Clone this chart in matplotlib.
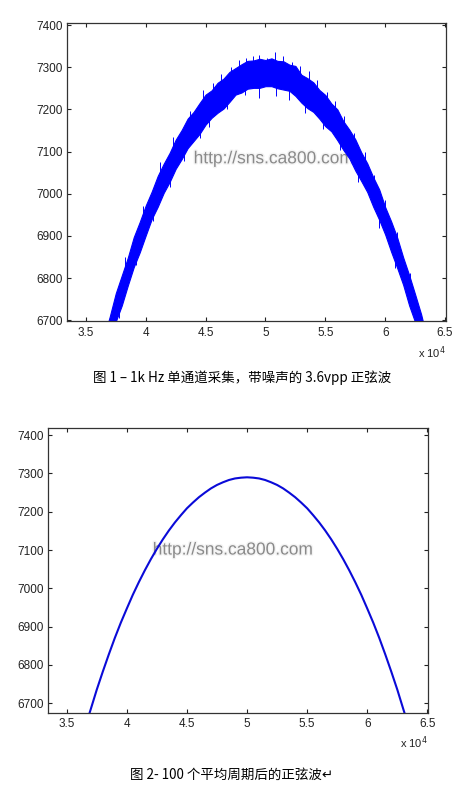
import matplotlib
matplotlib.use("Agg")
import matplotlib.pyplot as plt
import matplotlib.patheffects as pe
from matplotlib.ticker import FuncFormatter

# --- figure 1: noisy single-channel capture (envelope of the noisy trace) ---
noisy_x = [36000, 36500, 37000, 37500, 38000, 38500, 39000, 39500, 40000, 40500,
           41000, 41500, 42000, 42500, 43000, 43500, 44000, 44500, 45000, 45500,
           46000, 46500, 47000, 47500, 48000, 48500, 49000, 49500, 50000, 50500,
           51000, 51500, 52000, 52500, 53000, 53500, 54000, 54500, 55000, 55500,
           56000, 56500, 57000, 57500, 58000, 58500, 59000, 59500, 60000, 60500,
           61000, 61500, 62000, 62500, 63000, 63500, 64000]
noisy_upper = [6602, 6659, 6709, 6764, 6806, 6848, 6897, 6933, 6972, 7005,
               7042, 7071, 7097, 7128, 7151, 7178, 7194, 7215, 7235, 7245,
               7263, 7273, 7289, 7298, 7307, 7315, 7316, 7320, 7317, 7321,
               7315, 7314, 7306, 7303, 7282, 7274, 7264, 7246, 7234, 7214,
               7200, 7172, 7152, 7129, 7098, 7072, 7039, 7010, 6968, 6934,
               6896, 6849, 6807, 6761, 6714, 6656, 6603]
noisy_lower = [6537, 6590, 6641, 6697, 6735, 6782, 6826, 6861, 6901, 6940,
               6969, 7002, 7028, 7059, 7082, 7108, 7125, 7142, 7164, 7180,
               7192, 7202, 7218, 7235, 7240, 7249, 7251, 7251, 7255, 7255,
               7250, 7247, 7244, 7232, 7216, 7203, 7194, 7178, 7160, 7148,
               7127, 7104, 7084, 7055, 7030, 7004, 6969, 6938, 6903, 6862,
               6824, 6784, 6735, 6695, 6645, 6590, 6533]
# noise spikes sticking out of the band
spike_x = [38300, 39800, 41200, 42300, 43700, 44800, 45600, 46300, 47100, 47800,
           48400, 49000, 49450, 50100, 50780, 51500, 52200, 52900, 53600, 54300,
           55100, 55800, 56600, 57400, 58300, 59100, 60000, 61000, 62100,
           37800, 39200, 40600, 42000, 43200, 44500, 45300, 46800, 48300, 49500,
           50900, 52000, 53300, 54800, 56200, 57700, 59500, 60800, 62500]
spike_low = [6795, 6918, 7022, 7081, 7145, 7186, 7213, 7231, 7250, 7264,
             7273, 7278, 7280, 7281, 7279, 7273, 7262, 7250, 7235, 7218,
             7191, 7166, 7133, 7092, 7045, 6996, 6933, 6856, 6759,
             6705, 6830, 6935, 7015, 7077, 7133, 7158, 7200, 7235, 7228,
             7232, 7222, 7192, 7153, 7103, 7027, 6919, 6823, 6678]
spike_high = [6850, 6972, 7075, 7135, 7196, 7245, 7262, 7283, 7300, 7318,
              7322, 7326, 7328, 7322, 7337, 7327, 7312, 7304, 7290, 7270,
              7242, 7220, 7185, 7145, 7098, 7045, 6985, 6908, 6812,
              6755, 6880, 6985, 7064, 7125, 7179, 7205, 7249, 7274, 7285,
              7282, 7268, 7243, 7203, 7152, 7080, 6971, 6874, 6728]

# --- figure 2: average over 100 periods ---
avg_x = [36800, 37000, 37500, 38000, 38500, 39000, 39500, 40000, 40500, 41000,
         41500, 42000, 42500, 43000, 43500, 44000, 44500, 45000, 45500, 46000,
         46500, 47000, 47500, 48000, 48500, 49000, 49500, 50000, 50500, 51000,
         51500, 52000, 52500, 53000, 53500, 54000, 54500, 55000, 55500, 56000,
         56500, 57000, 57500, 58000, 58500, 59000, 59500, 60000, 60500, 61000,
         61500, 62000, 62500, 63000, 63200]
avg_y = [6664, 6684, 6735, 6782, 6827, 6870, 6910, 6947, 6983, 7016,
         7047, 7076, 7103, 7128, 7151, 7172, 7191, 7209, 7224, 7238,
         7250, 7261, 7270, 7277, 7283, 7287, 7289, 7290, 7289, 7287,
         7283, 7277, 7270, 7261, 7250, 7238, 7224, 7209, 7191, 7172,
         7151, 7128, 7103, 7076, 7047, 7016, 6983, 6947, 6910, 6870,
         6827, 6782, 6735, 6684, 6664]

y_ticks = [6700, 6800, 6900, 7000, 7100, 7200, 7300, 7400]
x_ticks = [35000, 40000, 45000, 50000, 55000, 60000, 65000]

caption1 = "图 1 – 1k Hz 单通道采集，带噪声的 3.6vpp 正弦波"
caption2 = "图 2- 100 个平均周期后的正弦波↵"
watermark = "http://sns.ca800.com"


def style_axes(ax):
    ax.set_xticks(x_ticks)
    ax.set_yticks(y_ticks)
    ax.xaxis.set_major_formatter(FuncFormatter(lambda v, p: "%g" % (v / 1e4)))
    ax.tick_params(direction="in", length=3, width=0.8, top=True, right=True,
                   labelsize=8.5, colors="#222222", pad=4)
    ax.tick_params(axis="y", pad=3)
    for s in ax.spines.values():
        s.set_color("#333333")
        s.set_linewidth(0.9)
    ax.text(1.0, -0.105, r"x 10$^{4}$", transform=ax.transAxes, ha="right",
            va="center", fontsize=8, color="#222222")


def add_watermark(ax, x, y):
    ax.text(x, y, watermark, transform=ax.transAxes, fontsize=12.5,
            color="#8a8a8a", family="Liberation Sans", va="center", zorder=1,
            path_effects=[pe.withStroke(linewidth=2, foreground="#f4f4f4")])


plt.rcParams["font.family"] = ["Liberation Sans", "DejaVu Sans"]
fig = plt.figure(figsize=(4.68, 7.97), dpi=100)

ax1 = fig.add_axes([0.1425, 0.5972, 0.8098, 0.3735])
add_watermark(ax1, 0.335, 0.545)
ax1.fill_between(noisy_x, noisy_lower, noisy_upper, color="#0000ff",
                 linewidth=0.8, edgecolor="#0000ff", zorder=2)
ax1.vlines(spike_x, spike_low, spike_high, color="#0000ff", linewidth=0.7, zorder=2)
ax1.set_xlim(33400, 65050)
ax1.set_ylim(6698, 7404)
style_axes(ax1)

ax2 = fig.add_axes([0.1032, 0.1058, 0.8113, 0.3568])
add_watermark(ax2, 0.275, 0.572)
ax2.plot(avg_x, avg_y, color="#0a0ad8", linewidth=1.5, zorder=2)
ax2.set_xlim(33470, 65050)
ax2.set_ylim(6675, 7418)
style_axes(ax2)

cap_font = ["Noto Sans CJK SC", "DejaVu Sans"]
fig.text(242 / 468, 1 - 378 / 797, caption1, ha="center", va="center",
         fontsize=9.7, family=cap_font)
fig.text(232 / 468, 1 - 775 / 797, caption2, ha="center", va="center",
         fontsize=9.7, family=cap_font)

fig.savefig("out.png", dpi=100)
